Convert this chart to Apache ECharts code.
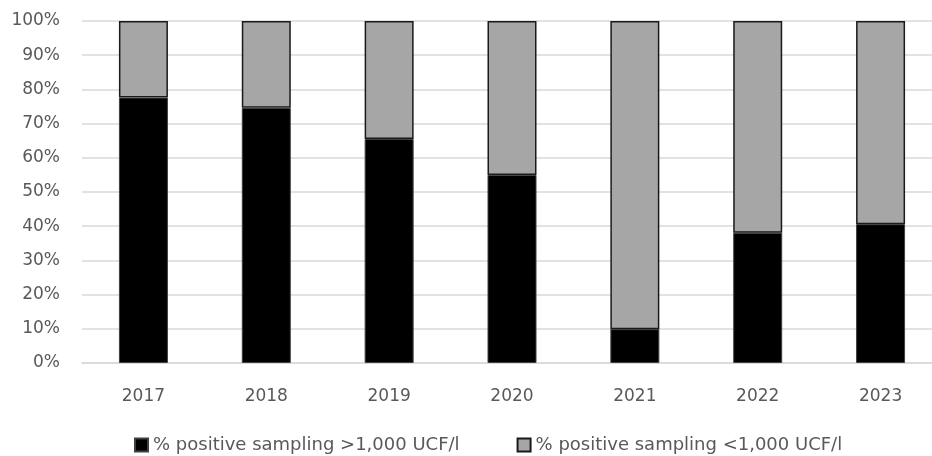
<!DOCTYPE html>
<html>
<head>
<meta charset="utf-8">
<script src="https://cdn.jsdelivr.net/npm/echarts@6/dist/echarts.min.js"></script>
<style>
html,body{margin:0;padding:0;background:#fff;}
#chart{width:932px;height:456px;}
</style>
</head>
<body>
<div id="chart"></div>
<script>
const years = ['2017','2018','2019','2020','2021','2022','2023'];
const above1000 = [77.6, 74.6, 65.5, 55.0, 9.9, 38.1, 40.6];
const below1000 = [22.4, 25.4, 34.5, 45.0, 90.1, 61.9, 59.4];
const yTicks = [0,10,20,30,40,50,60,70,80,90,100];
const seriesNames = ['% positive sampling >1,000 UCF/l', '% positive sampling <1,000 UCF/l'];

const chart = echarts.init(document.getElementById('chart'));
const font = '"DejaVu Sans", sans-serif';
chart.setOption({
  animation: false,
  backgroundColor: '#fff',
  grid: { left: 82, width: 860, top: 21, height: 342, outerBoundsMode: 'none', containLabel: false },
  legend: {
    top: 431,
    left: 129,
    itemWidth: 13,
    itemHeight: 13,
    itemGap: 57,
    icon: 'rect',
    textStyle: { fontFamily: font, fontSize: 18, color: '#595959' },
    data: seriesNames
  },
  xAxis: {
    type: 'category',
    data: years,
    axisTick: { show: false },
    axisLine: { lineStyle: { color: '#d9d9d9', width: 1.5 } },
    axisLabel: { fontFamily: font, fontSize: 17, color: '#595959', margin: 25 }
  },
  yAxis: {
    type: 'value',
    min: 0, max: 100, interval: 10,
    axisLine: { show: false },
    axisTick: { show: false },
    splitLine: { lineStyle: { color: '#d9d9d9', width: 1.5 } },
    axisLabel: { fontFamily: font, fontSize: 17, color: '#595959', margin: 22,
      formatter: v => yTicks.includes(v) ? v + '%' : '' }
  },
  series: [
    { name: seriesNames[0], type: 'bar', stack: 'a', data: above1000, barWidth: 49,
      itemStyle: { color: '#000000', borderColor: '#404040', borderWidth: 1 } },
    { name: seriesNames[1], type: 'bar', stack: 'a', data: below1000, barWidth: 49,
      itemStyle: { color: '#a6a6a6', borderColor: '#1a1a1a', borderWidth: 1.5 } }
  ]
});
</script>
</body>
</html>
